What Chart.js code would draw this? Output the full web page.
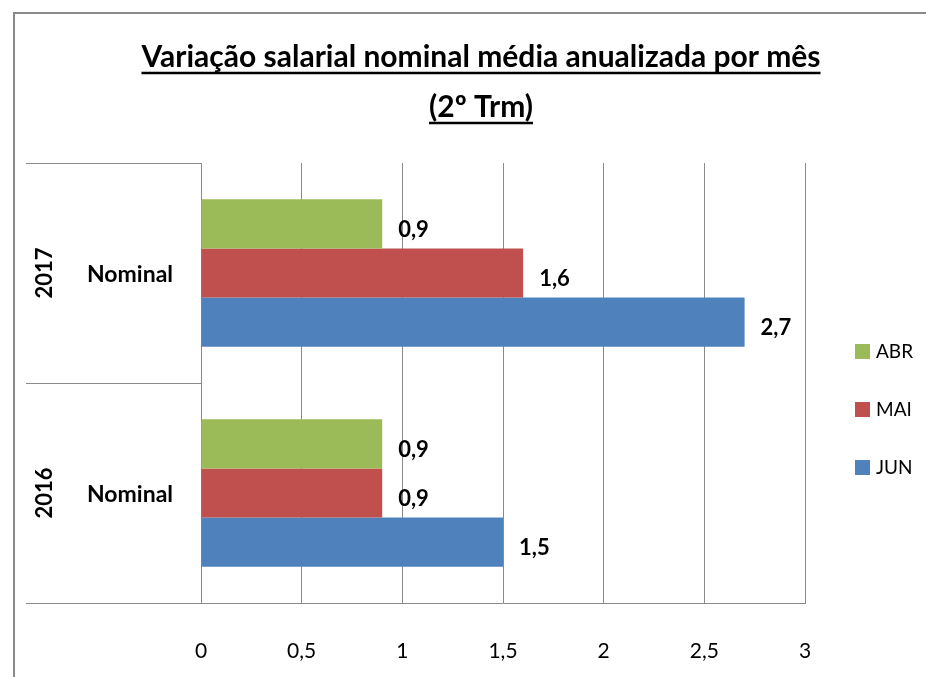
<!DOCTYPE html>
<html>
<head>
<meta charset="utf-8">
<script src="https://cdn.jsdelivr.net/npm/chart.js@4.4.0/dist/chart.umd.min.js"></script>
<style>
  html, body { margin: 0; padding: 0; background: #fff; }
</style>
</head>
<body>
<canvas id="myChart" width="926" height="677"></canvas>
<script>
// data
const years = ['2017', '2016'];
const categories = ['Nominal', 'Nominal'];
const seriesNames = ['ABR', 'MAI', 'JUN'];
const abrValues = [0.9, 0.9];
const maiValues = [1.6, 0.9];
const junValues = [2.7, 1.5];
const xTickValues = [0, 0.5, 1, 1.5, 2, 2.5, 3];
const titleLines = ['Variação salarial nominal média anualizada por mês', '(2º Trm)'];

const seriesColors = ['#9bbb59', '#c0504d', '#4f81bd'];
const gridColor = '#8a8a8a';
const fontName = 'Lato, "Open Sans", sans-serif';

function fmt(v) {
  return String(v).replace('.', ',');
}

// draws frame, underlined title, two-level category labels, value labels, legend
const extras = {
  id: 'extras',
  afterDraw(chart) {
    const ctx = chart.ctx;
    const area = chart.chartArea;
    const yScale = chart.scales.y;
    ctx.save();

    // outer frame (only top and left edges show)
    ctx.strokeStyle = gridColor;
    ctx.lineWidth = 2;
    ctx.beginPath();
    ctx.moveTo(14, 677);
    ctx.lineTo(14, 13);
    ctx.lineTo(926, 13);
    ctx.stroke();

    // title
    ctx.fillStyle = '#000';
    ctx.strokeStyle = '#000';
    ctx.font = 'bold 30px ' + fontName;
    ctx.textAlign = 'center';
    ctx.textBaseline = 'alphabetic';
    const cx = 481;
    const baselines = [67, 117];
    titleLines.forEach((line, i) => {
      ctx.fillText(line, cx, baselines[i]);
      const w = ctx.measureText(line).width;
      ctx.lineWidth = 2.5;
      ctx.beginPath();
      ctx.moveTo(cx - w / 2, baselines[i] + 6);
      ctx.lineTo(cx + w / 2, baselines[i] + 6);
      ctx.stroke();
    });

    // category labels
    ctx.textBaseline = 'middle';
    ctx.textAlign = 'center';
    years.forEach((yr, i) => {
      const py = yScale.getPixelForValue(i);
      ctx.font = 'bold 23px ' + fontName;
      ctx.fillText(categories[i], area.left - 71, py + 2);
      ctx.save();
      ctx.translate(area.left - 156, py);
      ctx.rotate(-Math.PI / 2);
      ctx.font = 'bold 22px ' + fontName;
      ctx.fillText(yr, 0, 0);
      ctx.restore();
    });

    // value labels
    ctx.textAlign = 'left';
    ctx.font = 'bold 22px ' + fontName;
    chart.data.datasets.forEach((ds, di) => {
      chart.getDatasetMeta(di).data.forEach((bar, i) => {
        ctx.fillText(fmt(ds.data[i]), bar.x + 16, bar.y + 6);
      });
    });

    // legend
    ctx.font = '19px ' + fontName;
    const legendY = [352, 410, 468];
    chart.data.datasets.forEach((ds, di) => {
      ctx.fillStyle = ds.backgroundColor;
      ctx.fillRect(855, legendY[di] - 8, 15, 15);
      ctx.fillStyle = '#000';
      ctx.fillText(ds.label, 876, legendY[di]);
    });

    ctx.restore();
  }
};

const ctx = document.getElementById('myChart').getContext('2d');
const myChart = new Chart(ctx, {
  type: 'bar',
  data: {
    labels: years,
    datasets: [
      { label: seriesNames[0], data: abrValues, backgroundColor: seriesColors[0] },
      { label: seriesNames[1], data: maiValues, backgroundColor: seriesColors[1] },
      { label: seriesNames[2], data: junValues, backgroundColor: seriesColors[2] }
    ]
  },
  options: {
    indexAxis: 'y',
    responsive: false,
    animation: false,
    layout: { padding: { left: 26, right: 121, top: 163, bottom: 14 } },
    categoryPercentage: 0.67,
    barPercentage: 1.0,
    plugins: {
      legend: { display: false },
      title: { display: false },
      tooltip: { enabled: false }
    },
    scales: {
      x: {
        min: 0,
        max: 3,
        afterBuildTicks(scale) {
          scale.ticks = xTickValues.map(v => ({ value: v }));
        },
        afterFit(scale) {
          scale.height = 60;
        },
        grid: { color: gridColor, drawTicks: false, lineWidth: 1 },
        border: { color: gridColor, width: 1 },
        ticks: {
          padding: 36,
          color: '#000',
          font: { family: fontName, size: 21 },
          callback: v => fmt(v)
        }
      },
      y: {
        grid: { color: gridColor, drawOnChartArea: false, tickLength: 175, lineWidth: 1 },
        border: { color: gridColor, width: 1 },
        ticks: { display: false }
      }
    }
  },
  plugins: [extras]
});
</script>
</body>
</html>
